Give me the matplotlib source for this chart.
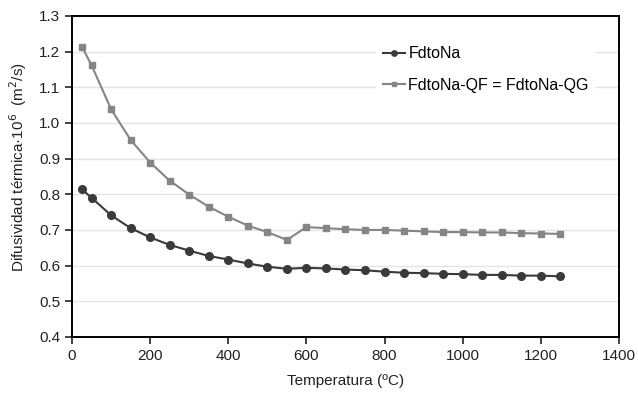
import matplotlib.pyplot as plt

plt.rcParams['font.family'] = ['Liberation Sans', 'DejaVu Sans']

temperatura = [25, 50, 100, 150, 200, 250, 300, 350, 400, 450, 500, 550, 600,
               650, 700, 750, 800, 850, 900, 950, 1000, 1050, 1100, 1150, 1200, 1250]
fdtona = [0.814, 0.790, 0.741, 0.705, 0.679, 0.658, 0.642, 0.627, 0.617, 0.606,
          0.597, 0.591, 0.594, 0.592, 0.589, 0.587, 0.583, 0.580, 0.579, 0.577,
          0.576, 0.574, 0.574, 0.572, 0.572, 0.570]
fdtona_qf = [1.214, 1.161, 1.038, 0.952, 0.889, 0.838, 0.799, 0.765, 0.737, 0.712,
             0.694, 0.672, 0.708, 0.705, 0.702, 0.700, 0.700, 0.698, 0.696, 0.694,
             0.694, 0.693, 0.693, 0.691, 0.690, 0.689]

fig = plt.figure(figsize=(6.38, 3.96), dpi=100)
ax = fig.add_axes([0.113, 0.149, 0.857, 0.811])

ax.plot(temperatura, fdtona, color='#3a3a3a', marker='o', markersize=5.5,
        linewidth=1.5, label='FdtoNa', zorder=3)
ax.plot(temperatura, fdtona_qf, color='#858585', marker='s', markersize=5,
        linewidth=1.5, label='FdtoNa-QF = FdtoNa-QG', zorder=3)

ax.set_xlim(0, 1400)
ax.set_ylim(0.4, 1.3)
ax.set_xticks(range(0, 1401, 200))
ax.set_yticks([0.4, 0.5, 0.6, 0.7, 0.8, 0.9, 1.0, 1.1, 1.2, 1.3])
ax.set_yticklabels([f'{v:.1f}' for v in ax.get_yticks()])
ax.yaxis.grid(True, color='#e4e4e4', linewidth=1)
ax.set_axisbelow(True)

for s in ax.spines.values():
    s.set_linewidth(1.4)
    s.set_color('black')
ax.tick_params(direction='out', length=5, width=1.2, labelsize=11, colors='#222222')

ax.set_xlabel('Temperatura (ºC)', fontsize=11, color='#222222', labelpad=8)
ax.set_ylabel('Difusividad térmica·10$^6$  (m$^2$/s)', fontsize=11, color='#222222')
ax.yaxis.set_label_coords(-0.078, 0.53)

leg = ax.legend(loc='upper left', bbox_to_anchor=(0.542, 0.95), fontsize=11.5,
                frameon=True, edgecolor='none', facecolor='white', framealpha=1,
                fancybox=False, handlelength=1.4, handletextpad=0.2,
                labelspacing=1.05, markerscale=0.7)

fig.savefig('out.png', dpi=100)
